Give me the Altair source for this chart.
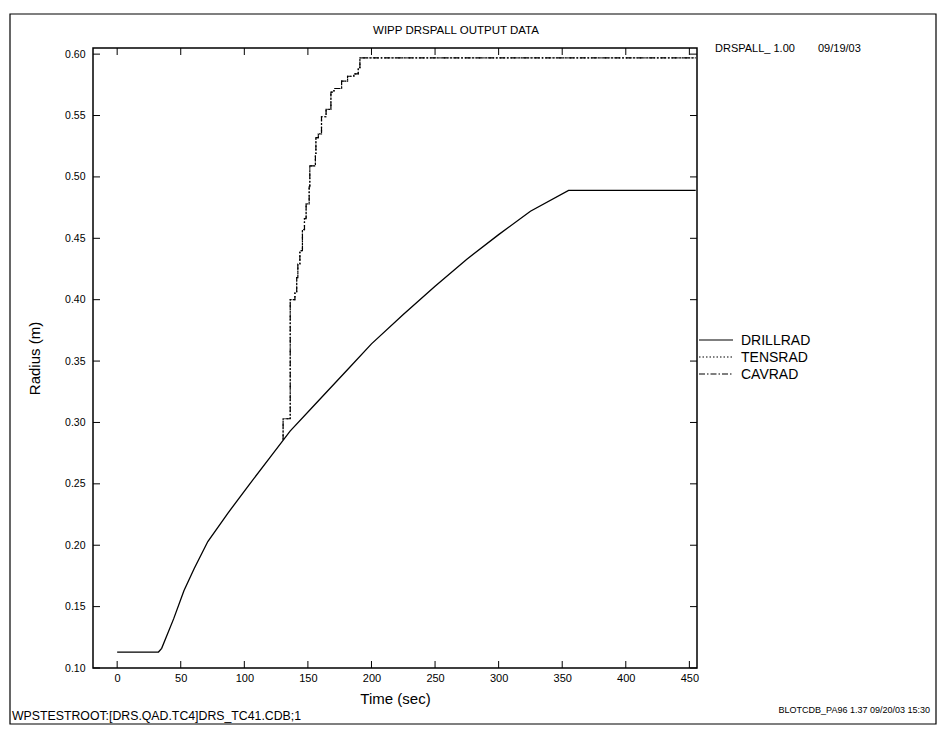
import altair as alt
import pandas as pd

# ---- data ----
drill_t = [0, 32.5, 35, 44.4, 52.5, 60.6, 71.3, 87, 103.6, 119.8, 136, 155, 182,
           200, 225, 250, 275, 300, 325, 355, 455]
drill_r = [0.113, 0.113, 0.116, 0.140, 0.163, 0.181, 0.203, 0.226, 0.249, 0.271, 0.293,
           0.314, 0.344, 0.364, 0.388, 0.411, 0.433, 0.453, 0.472, 0.489, 0.489]

tens_t = [130.5, 130.5, 136.1, 139.8, 141.2, 142.1, 143.7, 145.7, 147.3, 148.6, 151.0,
          151.5, 155.9, 156.3, 158.2, 160.7, 164.3, 168.1, 170.5, 176.5, 181.2, 186.1,
          189.6, 190.9, 455]
tens_r = [0.286, 0.303, 0.400, 0.406, 0.418, 0.429, 0.440, 0.457, 0.466, 0.478, 0.492,
          0.509, 0.518, 0.532, 0.535, 0.549, 0.555, 0.569, 0.572, 0.578, 0.582, 0.584,
          0.589, 0.597, 0.597]

cav_t = list(tens_t)
cav_r = list(tens_r)

series = ["DRILLRAD", "TENSRAD", "CAVRAD"]
dashes = [[1, 0], [1.5, 2], [6, 2, 1.5, 2]]
x_ticks = [0, 50, 100, 150, 200, 250, 300, 350, 400, 450]
y_ticks = [0.10, 0.15, 0.20, 0.25, 0.30, 0.35, 0.40, 0.45, 0.50, 0.55, 0.60]

title_text = "WIPP DRSPALL OUTPUT DATA"
version_text = "DRSPALL_ 1.00"
date_text = "09/19/03"
footer_left = "WPSTESTROOT:[DRS.QAD.TC4]DRS_TC41.CDB;1"
footer_right = "BLOTCDB_PA96 1.37 09/20/03 15:30"

W, H = 604, 620
FONT = "Liberation Sans"

df_drill = pd.DataFrame({"t": drill_t, "r": drill_r})
df_tens = pd.DataFrame({"t": tens_t, "r": tens_r})
df_cav = pd.DataFrame({"t": cav_t, "r": cav_r})

xs = alt.Scale(domain=[-19, 456], nice=False, zero=False)
ys = alt.Scale(domain=[0.1, 0.605], nice=False, zero=False)

xax = alt.Axis(values=x_ticks, ticks=False, domain=False, grid=False, labelFontSize=11,
               labelFont=FONT, labelColor="black", labelPadding=4, title="Time (sec)",
               titleFontSize=15, titleFont=FONT, titleFontWeight="normal",
               titleColor="black", titlePadding=8)
yax = alt.Axis(values=y_ticks, format=".2f", ticks=False, domain=False, grid=False,
               labelFontSize=10.5, labelFont=FONT, labelColor="black", labelPadding=8,
               title="Radius (m)", titleFontSize=15, titleFont=FONT,
               titleFontWeight="normal", titleColor="black", titlePadding=22)

drill = alt.Chart(df_drill).mark_line(color="black", strokeWidth=1.3).encode(
    x=alt.X("t:Q", scale=xs, axis=xax), y=alt.Y("r:Q", scale=ys, axis=yax))
tens = alt.Chart(df_tens).mark_line(
    color="black", strokeWidth=1.2, interpolate="step-after", strokeDash=dashes[1]).encode(
    x=alt.X("t:Q", scale=xs), y=alt.Y("r:Q", scale=ys))
cav = alt.Chart(df_cav).mark_line(
    color="black", strokeWidth=1.2, interpolate="step-after", strokeDash=dashes[2]).encode(
    x=alt.X("t:Q", scale=xs), y=alt.Y("r:Q", scale=ys))

dfx = pd.DataFrame({"v": x_ticks})
dfy = pd.DataFrame({"v": y_ticks})
tick_b = alt.Chart(dfx).mark_rule(color="black", strokeWidth=1).encode(
    x=alt.X("v:Q", scale=xs), y=alt.value(H), y2=alt.value(H - 7))
tick_t = alt.Chart(dfx).mark_rule(color="black", strokeWidth=1).encode(
    x=alt.X("v:Q", scale=xs), y=alt.value(0), y2=alt.value(7))
tick_l = alt.Chart(dfy).mark_rule(color="black", strokeWidth=1).encode(
    y=alt.Y("v:Q", scale=ys), x=alt.value(0), x2=alt.value(7))
tick_r = alt.Chart(dfy).mark_rule(color="black", strokeWidth=1).encode(
    y=alt.Y("v:Q", scale=ys), x=alt.value(W - 7), x2=alt.value(W))

def label(txt, x, y, size=11, align="left", font=FONT):
    return alt.Chart(pd.DataFrame({"txt": [txt]})).mark_text(
        align=align, baseline="alphabetic", fontSize=size, font=font, color="black"
    ).encode(x=alt.value(x), y=alt.value(y), text="txt:N")

# manual legend (right of the frame)
leg_layers = []
for i, (name, d) in enumerate(zip(series, dashes)):
    yy = 292 + 17 * i
    leg_layers.append(
        alt.Chart(pd.DataFrame({"a": [0]})).mark_rule(
            color="black", strokeWidth=1.2, strokeDash=d).encode(
            x=alt.value(606), x2=alt.value(640), y=alt.value(yy), y2=alt.value(yy)))
    leg_layers.append(label(name, 648, yy + 5, size=14))

t_title = label(title_text, 363, -14, size=11.5, align="center")
t_ver = label(version_text, 622, 4, size=11)
t_date = label(date_text, 725, 4, size=11)
t_fl = label(footer_left, -81, 672, size=12.3)
t_fr = label(footer_right, 837, 665, size=9, align="right")

border = alt.Chart(pd.DataFrame({"a": [0]})).mark_rect(
    fill=None, stroke="black", strokeWidth=1.2).encode(
    x=alt.value(-83), x2=alt.value(843), y=alt.value(-34), y2=alt.value(676))

chart = alt.layer(
    border, tick_b, tick_t, tick_l, tick_r, drill, tens, cav,
    *leg_layers, t_title, t_ver, t_date, t_fl, t_fr,
).properties(
    width=W, height=H,
    padding={"left": 85, "top": 40, "right": 240, "bottom": 58},
    autosize=alt.AutoSizeParams(type="none"),
    background="white",
).configure_view(stroke="black", strokeWidth=1.5)

chart.save("out.html", embed_options={"renderer": "svg", "actions": False})
